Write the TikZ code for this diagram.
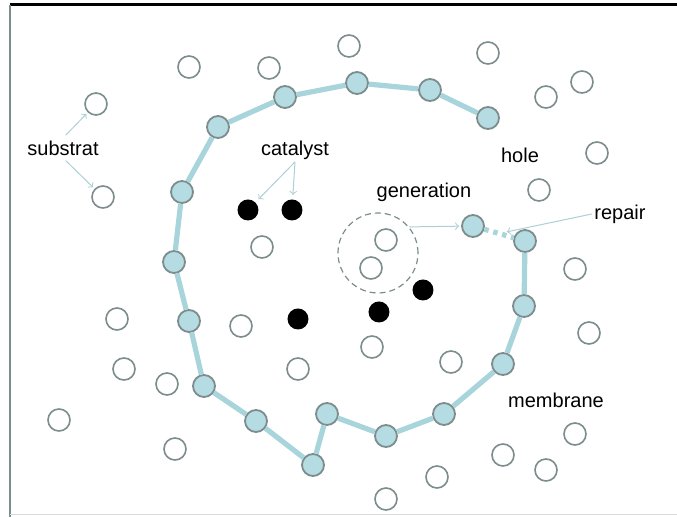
\documentclass[tikz,border=0pt]{standalone}
\usepackage{fontspec}
\setmainfont{Liberation Sans}
\usepackage{tikz}
\usetikzlibrary{positioning,shapes}
\definecolor{memblue}{RGB}{180,220,226}
\definecolor{memline}{RGB}{168,212,219}
\definecolor{molgray}{RGB}{125,140,140}
\definecolor{arrowblue}{RGB}{172,208,214}
\tikzstyle{sub}=[circle,draw=molgray,fill=white,line width=0.8pt,minimum size=11pt,inner sep=0pt]
\tikzstyle{mem}=[circle,draw=molgray,fill=memblue,line width=0.9pt,minimum size=11pt,inner sep=0pt]
\tikzstyle{cat}=[circle,fill=black,minimum size=10.5pt,inner sep=0pt]
\tikzstyle{lbl}=[font=\fontsize{10}{12}\selectfont,inner sep=1pt]
\tikzstyle{pointer}=[->,draw=arrowblue,line width=0.5pt]
\tikzstyle{membrane}=[draw=memline,line width=2.6pt]
\newcommand{\newMol}[3]{\node[#3](#1) at (#2) {};}
\newcommand{\newLabel}[3]{\node[lbl](#1) at (#2) {#3};}
\newcommand{\newPointer}[3]{\draw[pointer,#3] (#1) -- (#2);}

\begin{document}
\begin{tikzpicture}[x=0.5pt,y=-0.5pt,>=to,semithick]
    \useasboundingbox (0,0) rectangle (677,517);
    % frame
    \draw[line width=1.5pt] (10,5) -- (677,5);
    \draw[molgray,line width=0.6pt] (10,5) -- (10,517);
    \draw[black!15,line width=0.5pt] (10,515) -- (677,515);
    % substrate
    \foreach \n/\x/\y in {1/189/67,2/269/68,3/349/46,4/488/53,5/546/97,6/582/82,
        7/597/153,8/539/190,9/96/104,10/103/197,11/262/247,12/386/240,13/371/268,
        14/575/269,15/589/333,16/372/347,17/451/362,18/117/319,19/241/326,
        20/298/369,21/124/369,22/167/384,23/59/420,24/175/449,25/575/434,
        26/503/455,27/546/470,28/437/477,29/386/499}
        {\newMol{s\n}{\x,\y}{sub}}
    % catalyst
    \newMol{c1}{248,210}{cat}
    \newMol{c2}{292,210}{cat}
    \newMol{c3}{298,319}{cat}
    \newMol{c4}{379,312}{cat}
    \newMol{c5}{423,290}{cat}
    % membrane
    \foreach \n/\x/\y in {1/488/118,2/430/90,3/357/83,4/285/97,5/218/127,
        6/182/192,7/174/262,8/189/321,9/204/386,10/256/421,11/313/465,
        12/327/414,13/386/436,14/444/414,15/503/364,16/524/306,17/525/241}
        {\newMol{m\n}{\x,\y}{mem}}
    \foreach \i [remember=\i as \j (initially 1)] in {2,...,17}
        {\draw[membrane] (m\j) -- (m\i);}
    \newMol{rep}{473,226}{mem}
    \draw[membrane,dash pattern=on 2.2pt off 2.4pt] (rep) -- coordinate[pos=.5](gap) (m17);
    \node[circle,draw=molgray,dashed,dash pattern=on 3pt off 2pt,line width=0.6pt,
        minimum size=40pt,inner sep=0pt] (gen) at (378,253) {};
    % labels
    \newLabel{substrat}{63,148}{substrat}
    \newLabel{catalyst}{295,150}{catalyst}
    \newLabel{hole}{520,155}{hole}
    \newLabel{generation}{424,192}{generation}
    \newLabel{repair}{620,214}{repair}
    \newLabel{membranelbl}{556,400}{membrane}
    \newPointer{substrat.north}{s9}{shorten <=2pt,shorten >=1pt}
    \newPointer{substrat.south}{s10}{shorten <=2pt,shorten >=1pt}
    \newPointer{catalyst.south}{c1}{shorten >=2pt}
    \newPointer{catalyst.south}{c2}{shorten >=2pt}
    \newPointer{gen.40}{rep}{shorten >=1pt}
    \newPointer{repair.west}{gap}{shorten >=4pt}
\end{tikzpicture}
\end{document}
